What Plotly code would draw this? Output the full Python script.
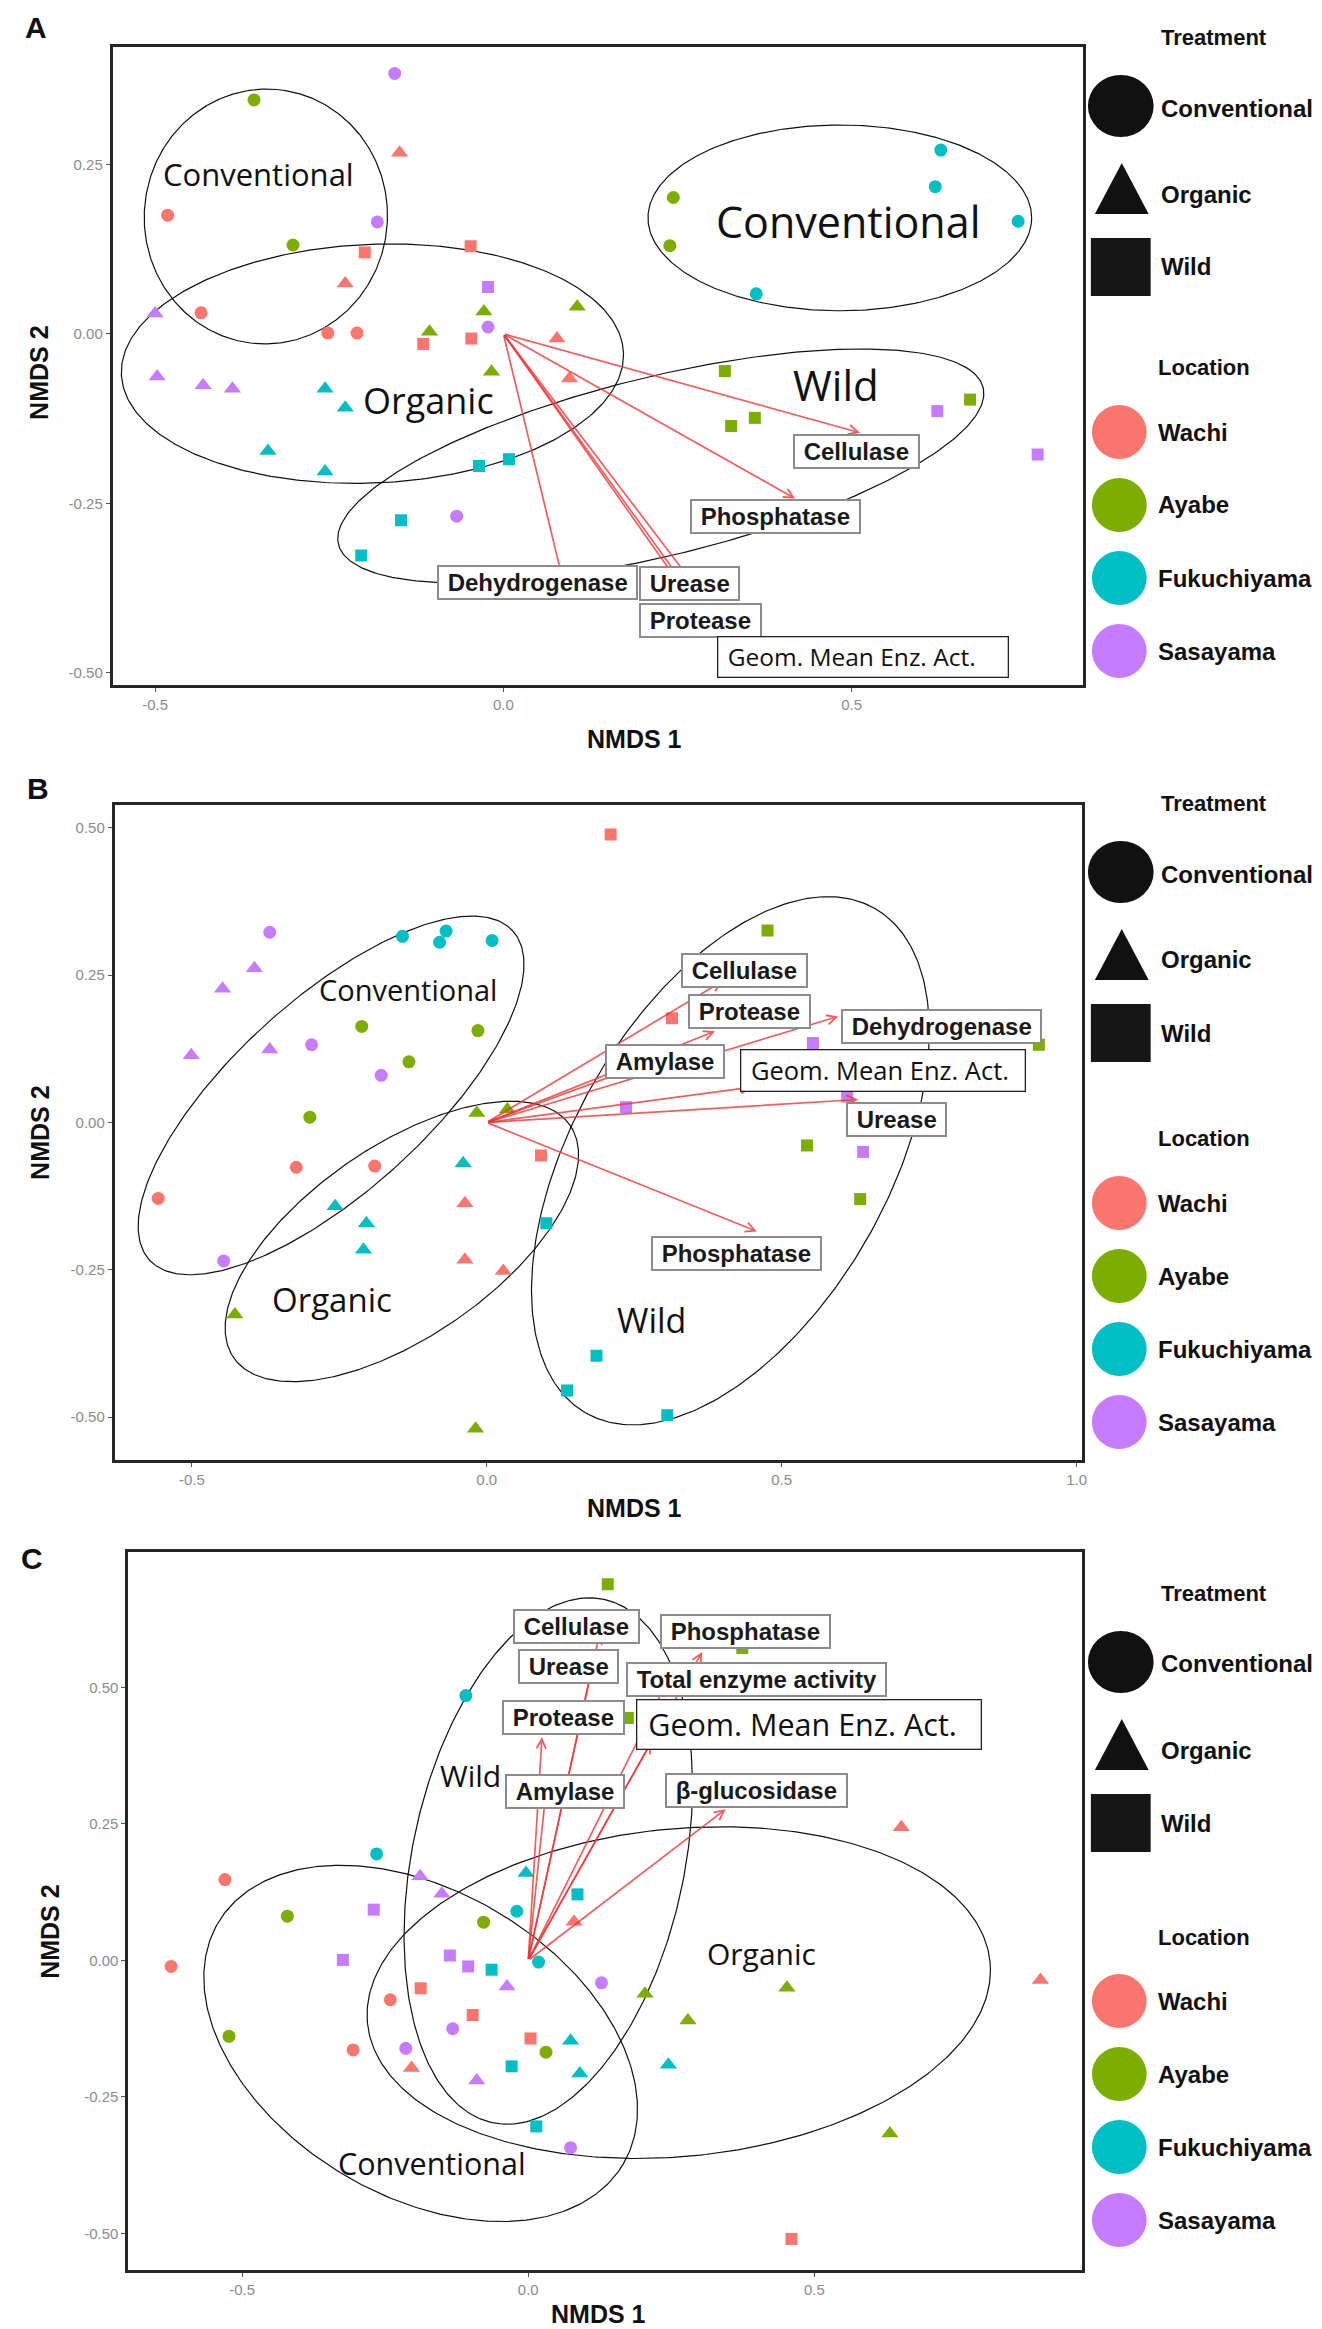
import numpy as np
import plotly.graph_objects as go

FIG_W, FIG_H = 1322, 2329

LOC_NAMES = {"Wa": "Wachi", "Ay": "Ayabe", "Fu": "Fukuchiyama", "Sa": "Sasayama"}
TRT_NAMES = {"C": "Conventional", "O": "Organic", "W": "Wild"}
LOC_COLOR = {"Wa": "#F8766D", "Ay": "#7CAE00", "Fu": "#00BFC4", "Sa": "#C77CFF"}
TRT_SYMBOL = {"C": "circle", "O": "triangle-up", "W": "square"}
TRT_SIZE = {"C": 13, "O": 15, "W": 12}

# ---------------- Panel A data ----------------
A_group = ["Wa-C", "Wa-C", "Wa-C", "Wa-C", "Wa-O", "Wa-O", "Wa-O", "Wa-O", "Wa-W", "Wa-W", "Wa-W", "Wa-W",
           "Ay-C", "Ay-C", "Ay-C", "Ay-C", "Ay-O", "Ay-O", "Ay-O", "Ay-O", "Ay-W", "Ay-W", "Ay-W", "Ay-W",
           "Fu-C", "Fu-C", "Fu-C", "Fu-C", "Fu-O", "Fu-O", "Fu-O", "Fu-O", "Fu-W", "Fu-W", "Fu-W", "Fu-W",
           "Sa-C", "Sa-C", "Sa-C", "Sa-C", "Sa-O", "Sa-O", "Sa-O", "Sa-O", "Sa-W", "Sa-W", "Sa-W"]
A_x = [-0.482, -0.434, -0.252, -0.210, -0.149, -0.227, 0.077, 0.095, -0.199, -0.047, -0.115, -0.046,
       -0.358, -0.302, 0.244, 0.239, -0.028, 0.106, -0.106, -0.017, 0.318, 0.327, 0.361, 0.670,
       0.628, 0.620, 0.739, 0.363, -0.256, -0.227, -0.338, -0.256, -0.035, 0.008, -0.147, -0.204,
       -0.156, -0.181, -0.022, -0.067, -0.500, -0.497, -0.431, -0.389, -0.022, 0.623, 0.767]
A_y = [0.175, 0.031, 0.001, 0.001, 0.267, 0.074, -0.007, -0.066, 0.120, 0.129, -0.015, -0.007,
       0.345, 0.131, 0.201, 0.130, 0.033, 0.040, 0.003, -0.056, -0.055, -0.136, -0.124, -0.097,
       0.271, 0.217, 0.166, 0.059, -0.081, -0.109, -0.173, -0.203, -0.195, -0.185, -0.275, -0.327,
       0.384, 0.165, 0.010, -0.269, 0.030, -0.063, -0.076, -0.081, 0.069, -0.114, -0.178]
A_xticks = [-0.5, 0.0, 0.5]
A_xticktext = ["-0.5", "0.0", "0.5"]
A_yticks = [-0.50, -0.25, 0.00, 0.25]
A_yticktext = ["-0.50", "-0.25", "0.00", "0.25"]
A_vec_names = ["Cellulase", "Phosphatase", "Dehydrogenase", "Urease", "Protease", "Geom. Mean Enz. Act."]
A_vec_x = [0.512, 0.419, 0.085, 0.255, 0.268, 0.290]
A_vec_y = [-0.146, -0.243, -0.362, -0.372, -0.382, -0.392]
A_lab_names = ["Cellulase", "Phosphatase", "Dehydrogenase", "Urease", "Protease"]
A_lab_x = [0.507, 0.390, 0.049, 0.267, 0.283]
A_lab_y = [-0.174, -0.270, -0.367, -0.368, -0.423]
A_geom_x, A_geom_y = 0.307, -0.477
A_ell_cx = [-0.341, -0.188, 0.226, 0.483]
A_ell_cy = [0.173, -0.044, -0.195, 0.171]
A_ell_a = [0.188, 0.372, 0.491, 0.284]
A_ell_b = [0.180, 0.176, 0.132, 0.137]
A_ell_ang = [85, 2.5, 13.6, 0]
A_grp_text = ["Conventional", "Organic", "Wild", "Conventional"]
A_grp_tx = [-0.351, -0.108, 0.478, 0.496]
A_grp_ty = [0.236, -0.098, -0.075, 0.166]

# ---------------- Panel B data ----------------
B_group = ["Wa-C", "Wa-C", "Wa-C", "Wa-O", "Wa-O", "Wa-O", "Wa-W", "Wa-W", "Wa-W",
           "Ay-C", "Ay-C", "Ay-C", "Ay-C", "Ay-O", "Ay-O", "Ay-O", "Ay-O", "Ay-W", "Ay-W", "Ay-W", "Ay-W",
           "Fu-C", "Fu-C", "Fu-C", "Fu-C", "Fu-O", "Fu-O", "Fu-O", "Fu-O", "Fu-W", "Fu-W", "Fu-W", "Fu-W",
           "Sa-C", "Sa-C", "Sa-C", "Sa-C", "Sa-O", "Sa-O", "Sa-O", "Sa-O", "Sa-W", "Sa-W", "Sa-W", "Sa-W"]
B_x = [-0.323, -0.190, -0.557, -0.037, -0.037, 0.028, 0.210, 0.314, 0.092,
       -0.212, -0.015, -0.132, -0.300, -0.017, 0.035, -0.427, -0.019, 0.476, 0.936, 0.543, 0.633,
       -0.143, -0.069, -0.080, 0.009, -0.040, -0.257, -0.204, -0.209, 0.101, 0.186, 0.136, 0.306,
       -0.368, -0.297, -0.179, -0.446, -0.394, -0.448, -0.501, -0.368, 0.236, 0.553, 0.611, 0.638]
B_y = [-0.076, -0.074, -0.129, -0.137, -0.233, -0.252, 0.489, 0.177, -0.056,
       0.163, 0.156, 0.103, 0.009, 0.016, 0.022, -0.326, -0.520, 0.326, 0.132, -0.039, -0.130,
       0.316, 0.325, 0.306, 0.309, -0.069, -0.142, -0.171, -0.216, -0.171, -0.396, -0.455, -0.497,
       0.323, 0.132, 0.080, -0.235, 0.262, 0.227, 0.114, 0.124, 0.026, 0.135, 0.044, -0.050]
B_xticks = [-0.5, 0.0, 0.5, 1.0]
B_xticktext = ["-0.5", "0.0", "0.5", "1.0"]
B_yticks = [-0.50, -0.25, 0.00, 0.25, 0.50]
B_yticktext = ["-0.50", "-0.25", "0.00", "0.25", "0.50"]
B_vec_names = ["Cellulase", "Protease", "Dehydrogenase", "Amylase", "Geom. Mean Enz. Act.", "Urease", "Phosphatase"]
B_vec_x = [0.400, 0.387, 0.596, 0.270, 0.450, 0.630, 0.458]
B_vec_y = [0.240, 0.155, 0.180, 0.100, 0.060, 0.039, -0.185]
B_lab_names = ["Cellulase", "Protease", "Dehydrogenase", "Amylase", "Urease", "Phosphatase"]
B_lab_x = [0.437, 0.445, 0.771, 0.303, 0.694, 0.424]
B_lab_y = [0.258, 0.188, 0.163, 0.103, 0.005, -0.222]
B_geom_x, B_geom_y = 0.430, 0.088
B_ell_cx = [-0.264, -0.144, 0.413]
B_ell_cy = [0.046, -0.202, -0.065]
B_ell_a = [0.417, 0.348, 0.494]
B_ell_b = [0.164, 0.162, 0.268]
B_ell_ang = [42, 34.5, 60]
B_grp_text = ["Conventional", "Organic", "Wild"]
B_grp_tx = [-0.133, -0.262, 0.279]
B_grp_ty = [0.225, -0.300, -0.335]

# ---------------- Panel C data ----------------
C_group = ["Wa-C", "Wa-C", "Wa-C", "Wa-C", "Wa-O", "Wa-O", "Wa-O", "Wa-O", "Wa-W", "Wa-W", "Wa-W", "Wa-W",
           "Ay-C", "Ay-C", "Ay-C", "Ay-C", "Ay-O", "Ay-O", "Ay-O", "Ay-O", "Ay-W", "Ay-W", "Ay-W",
           "Fu-C", "Fu-C", "Fu-C", "Fu-C", "Fu-O", "Fu-O", "Fu-O", "Fu-O", "Fu-W", "Fu-W", "Fu-W", "Fu-W",
           "Sa-C", "Sa-C", "Sa-C", "Sa-C", "Sa-O", "Sa-O", "Sa-O", "Sa-O", "Sa-W", "Sa-W", "Sa-W", "Sa-W"]
C_x = [-0.530, -0.624, -0.241, -0.306, 0.080, -0.204, 0.652, 0.895, -0.188, -0.097, 0.004, 0.460,
       -0.421, -0.078, -0.523, 0.031, 0.204, 0.452, 0.279, 0.632, 0.139, 0.174, 0.374,
       -0.109, -0.265, -0.020, 0.018, -0.004, 0.074, 0.090, 0.245, 0.086, -0.064, -0.029, 0.014,
       -0.132, -0.214, 0.128, 0.074, -0.189, -0.151, -0.037, -0.090, -0.270, -0.324, -0.137, -0.105]
C_y = [0.148, -0.011, -0.072, -0.164, 0.071, -0.197, 0.244, -0.036, -0.051, -0.100, -0.143, -0.510,
       0.081, 0.070, -0.139, -0.168, -0.061, -0.050, -0.110, -0.317, 0.689, 0.444, 0.572,
       0.485, 0.195, 0.090, -0.003, 0.160, -0.147, -0.207, -0.191, 0.121, -0.017, -0.194, -0.304,
       -0.125, -0.161, -0.041, -0.343, 0.154, 0.122, -0.048, -0.220, 0.093, 0.001, 0.009, -0.011]
C_xticks = [-0.5, 0.0, 0.5]
C_xticktext = ["-0.5", "0.0", "0.5"]
C_yticks = [-0.50, -0.25, 0.00, 0.25, 0.50]
C_yticktext = ["-0.50", "-0.25", "0.00", "0.25", "0.50"]
C_vec_names = ["Cellulase", "Urease", "Phosphatase", "Total enzyme activity", "Protease",
               "Geom. Mean Enz. Act.", "Amylase", "β-glucosidase"]
C_vec_x = [0.125, 0.110, 0.304, 0.240, 0.024, 0.215, 0.030, 0.345]
C_vec_y = [0.600, 0.530, 0.565, 0.505, 0.409, 0.400, 0.300, 0.277]
C_lab_names = ["Cellulase", "Urease", "Phosphatase", "Total enzyme activity", "Protease", "Amylase", "β-glucosidase"]
C_lab_x = [0.085, 0.071, 0.380, 0.399, 0.061, 0.065, 0.399]
C_lab_y = [0.611, 0.539, 0.602, 0.515, 0.444, 0.310, 0.312]
C_geom_x, C_geom_y = 0.188, 0.4315
C_ell_cx = [0.035, 0.263, -0.188]
C_ell_cy = [0.182, -0.059, -0.152]
C_ell_a = [0.490, 0.575, 0.433]
C_ell_b = [0.250, 0.300, 0.279]
C_ell_ang = [77.9, 5.6, -30.7]
C_grp_text = ["Wild", "Organic", "Conventional"]
C_grp_tx = [-0.101, 0.407, -0.168]
C_grp_ty = [0.338, 0.012, -0.371]

# ---------------- layout settings (pixels) ----------------
PANELS = [
    dict(key="A", sfx="", px=(105, 1079, 39, 677), xr=(-0.561, 0.832), yr=(-0.518, 0.423),
         group=A_group, x=A_x, y=A_y, xt=A_xticks, xtt=A_xticktext, yt=A_yticks, ytt=A_yticktext,
         vn=A_vec_names, vx=A_vec_x, vy=A_vec_y, ln=A_lab_names, lx=A_lab_x, ly=A_lab_y,
         gx=A_geom_x, gy=A_geom_y, gw=292, gfs=24.5,
         ecx=A_ell_cx, ecy=A_ell_cy, ea=A_ell_a, eb=A_ell_b, eang=A_ell_ang,
         gt=A_grp_text, gtx=A_grp_tx, gty=A_grp_ty, gts=[31, 36, 42, 43],
         letter=(28, 19), xtitle=(629, 731), ytitle=(31, 365), legend_top=29, loc_gap=331),
    dict(key="B", sfx="2", px=(107, 1078, 797, 1452), xr=(-0.631, 1.009), yr=(-0.573, 0.539),
         group=B_group, x=B_x, y=B_y, xt=B_xticks, xtt=B_xticktext, yt=B_yticks, ytt=B_yticktext,
         vn=B_vec_names, vx=B_vec_x, vy=B_vec_y, ln=B_lab_names, lx=B_lab_x, ly=B_lab_y,
         gx=B_geom_x, gy=B_geom_y, gw=286, gfs=25.5,
         ecx=B_ell_cx, ecy=B_ell_cy, ea=B_ell_a, eb=B_ell_b, eang=B_ell_ang,
         gt=B_grp_text, gtx=B_grp_tx, gty=B_grp_ty, gts=[29, 33, 34],
         letter=(30, 781), xtitle=(629, 1500), ytitle=(32, 1125), legend_top=795, loc_gap=336),
    dict(key="C", sfx="3", px=(120.7, 1077.7, 1544, 2262), xr=(-0.699, 0.967), yr=(-0.567, 0.748),
         group=C_group, x=C_x, y=C_y, xt=C_xticks, xtt=C_xticktext, yt=C_yticks, ytt=C_yticktext,
         vn=C_vec_names, vx=C_vec_x, vy=C_vec_y, ln=C_lab_names, lx=C_lab_x, ly=C_lab_y,
         gx=C_geom_x, gy=C_geom_y, gw=346, gfs=30.5,
         ecx=C_ell_cx, ecy=C_ell_cy, ea=C_ell_a, eb=C_ell_b, eang=C_ell_ang,
         gt=C_grp_text, gtx=C_grp_tx, gty=C_grp_ty, gts=[30, 30, 30.5],
         letter=(24, 1550), xtitle=(593, 2306), ytitle=(42, 1924), legend_top=1585, loc_gap=344),
]

ARROW_COLOR = "rgba(238,55,55,0.8)"
BOLD_FONT = "Liberation Sans, Arial, sans-serif"
TEXT_FONT = "Open Sans, Noto Sans, sans-serif"


def paper_x(px):
    return px / FIG_W


def paper_y(py):
    return 1 - py / FIG_H


def ellipse_xy(cx, cy, a, b, ang, kx):
    t = np.linspace(0, 2 * np.pi, 361)
    th = np.radians(ang)
    u, v = a * np.cos(t), b * np.sin(t)
    dx = u * np.cos(th) - v * np.sin(th)
    dy = u * np.sin(th) + v * np.cos(th)
    return cx + dx * kx, cy + dy


fig = go.Figure()
annotations = []
shapes = []
layout_axes = {}

for P in PANELS:
    sfx = P["sfx"]
    xa, ya = "x" + sfx, "y" + sfx
    x0, x1, y0, y1 = P["px"]
    sx = (x1 - x0) / (P["xr"][1] - P["xr"][0])
    sy = (y1 - y0) / (P["yr"][1] - P["yr"][0])
    kx = sy / sx

    axis_common = dict(showgrid=False, zeroline=False, showline=True, mirror=True,
                       linecolor="#262626", linewidth=2.6, ticks="outside", ticklen=4,
                       tickcolor="#555555", tickwidth=1,
                       tickfont=dict(family=BOLD_FONT, size=15, color="#8c8c8c"))
    layout_axes["xaxis" + sfx] = dict(axis_common, domain=[paper_x(x0), paper_x(x1)], range=list(P["xr"]),
                                      tickvals=P["xt"], ticktext=P["xtt"], anchor=ya)
    layout_axes["yaxis" + sfx] = dict(axis_common, domain=[paper_y(y1), paper_y(y0)], range=list(P["yr"]),
                                      tickvals=P["yt"], ticktext=P["ytt"], anchor=xa)

    # ellipses
    for cx, cy, a, b, ang in zip(P["ecx"], P["ecy"], P["ea"], P["eb"], P["eang"]):
        ex, ey = ellipse_xy(cx, cy, a, b, ang, kx)
        fig.add_trace(go.Scatter(x=ex, y=ey, mode="lines", line=dict(color="#111111", width=1.2),
                                 xaxis=xa, yaxis=ya, hoverinfo="skip", showlegend=False))

    # points
    for lc in ["Wa", "Ay", "Fu", "Sa"]:
        for tc in ["C", "O", "W"]:
            g = lc + "-" + tc
            px_ = [xv for gg, xv in zip(P["group"], P["x"]) if gg == g]
            py_ = [yv for gg, yv in zip(P["group"], P["y"]) if gg == g]
            if not px_:
                continue
            fig.add_trace(go.Scatter(x=px_, y=py_, mode="markers",
                                     marker=dict(symbol=TRT_SYMBOL[tc], size=TRT_SIZE[tc],
                                                 color=LOC_COLOR[lc], line=dict(width=0)),
                                     name=LOC_NAMES[lc] + " " + TRT_NAMES[tc],
                                     xaxis=xa, yaxis=ya, showlegend=False))

    # arrows (vectors)
    for vx, vy in zip(P["vx"], P["vy"]):
        annotations.append(dict(x=vx, y=vy, ax=0, ay=0, xref=xa, yref=ya, axref=xa, ayref=ya,
                                text="", showarrow=True, arrowhead=5, arrowsize=1.1,
                                arrowwidth=1.7, arrowcolor=ARROW_COLOR))

    # boxed bold labels
    for nm, lx, ly in zip(P["ln"], P["lx"], P["ly"]):
        annotations.append(dict(x=lx, y=ly, xref=xa, yref=ya, showarrow=False,
                                text="<b>&nbsp;" + nm + "&nbsp;</b>",
                                font=dict(family=BOLD_FONT, size=24, color="#1a1a1a"),
                                bgcolor="white", bordercolor="#8c8c8c", borderwidth=2, borderpad=2,
                                xanchor="center", yanchor="middle"))

    # Geom. Mean box
    annotations.append(dict(x=P["gx"], y=P["gy"], xref=xa, yref=ya, showarrow=False,
                            text="&nbsp;Geom. Mean Enz. Act.", align="left",
                            width=P["gw"] - 9, font=dict(family=TEXT_FONT, size=P["gfs"], color="#111111"),
                            bgcolor="white", bordercolor="#222222", borderwidth=1.3, borderpad=3,
                            xanchor="left", yanchor="middle"))

    # group texts
    for t, tx, ty, ts in zip(P["gt"], P["gtx"], P["gty"], P["gts"]):
        annotations.append(dict(x=tx, y=ty, xref=xa, yref=ya, showarrow=False, text=t,
                                font=dict(family=TEXT_FONT, size=ts, color="#111111"),
                                xanchor="center", yanchor="middle"))

    # panel letter and axis titles
    lx_, ly_ = P["letter"]
    annotations.append(dict(x=paper_x(lx_), y=paper_y(ly_), xref="paper", yref="paper", showarrow=False,
                            text="<b>" + P["key"] + "</b>", font=dict(family=BOLD_FONT, size=30, color="#111"),
                            xanchor="center", yanchor="middle"))
    tx_, ty_ = P["xtitle"]
    annotations.append(dict(x=paper_x(tx_), y=paper_y(ty_), xref="paper", yref="paper", showarrow=False,
                            text="<b>NMDS 1</b>", font=dict(family=BOLD_FONT, size=25, color="#111"),
                            xanchor="center", yanchor="middle"))
    tx_, ty_ = P["ytitle"]
    annotations.append(dict(x=paper_x(tx_), y=paper_y(ty_), xref="paper", yref="paper", showarrow=False,
                            text="<b>NMDS 2</b>", textangle=-90, font=dict(family=BOLD_FONT, size=25, color="#111"),
                            xanchor="center", yanchor="middle"))

    # legend (drawn manually, large keys)
    top = P["legend_top"]
    text_x = paper_x(1155)
    annotations.append(dict(x=text_x, y=paper_y(top), xref="paper", yref="paper", showarrow=False,
                            text="<b>Treatment</b>", font=dict(family=BOLD_FONT, size=22, color="#111"),
                            xanchor="left", yanchor="middle"))
    # circle
    c = top + 69
    shapes.append(dict(type="circle", xref="paper", yref="paper", x0=paper_x(1084), x1=paper_x(1150),
                       y0=paper_y(c + 31), y1=paper_y(c - 31), fillcolor="#111111", line=dict(width=0)))
    annotations.append(dict(x=text_x, y=paper_y(c + 2), xref="paper", yref="paper", showarrow=False,
                            text="<b>Conventional</b>", font=dict(family=BOLD_FONT, size=24, color="#111"),
                            xanchor="left", yanchor="middle"))
    # triangle
    c = top + 153
    path = "M {:.5f},{:.5f} L {:.5f},{:.5f} L {:.5f},{:.5f} Z".format(
        paper_x(1118), paper_y(c - 27), paper_x(1091), paper_y(c + 24), paper_x(1145), paper_y(c + 24))
    shapes.append(dict(type="path", xref="paper", yref="paper", path=path, fillcolor="#111111", line=dict(width=0)))
    annotations.append(dict(x=text_x, y=paper_y(c + 4), xref="paper", yref="paper", showarrow=False,
                            text="<b>Organic</b>", font=dict(family=BOLD_FONT, size=24, color="#111"),
                            xanchor="left", yanchor="middle"))
    # square
    c = top + 230
    shapes.append(dict(type="rect", xref="paper", yref="paper", x0=paper_x(1087), x1=paper_x(1147),
                       y0=paper_y(c + 29), y1=paper_y(c - 29), fillcolor="#161616", line=dict(width=0)))
    annotations.append(dict(x=text_x, y=paper_y(c), xref="paper", yref="paper", showarrow=False,
                            text="<b>Wild</b>", font=dict(family=BOLD_FONT, size=24, color="#111"),
                            xanchor="left", yanchor="middle"))
    # Location
    loc_top = top + P["loc_gap"]
    annotations.append(dict(x=paper_x(1152), y=paper_y(loc_top), xref="paper", yref="paper", showarrow=False,
                            text="<b>Location</b>", font=dict(family=BOLD_FONT, size=22, color="#111"),
                            xanchor="left", yanchor="middle"))
    for i, lc in enumerate(["Wa", "Ay", "Fu", "Sa"]):
        c = loc_top + 64 + 73 * i
        shapes.append(dict(type="circle", xref="paper", yref="paper", x0=paper_x(1088), x1=paper_x(1143),
                           y0=paper_y(c + 27), y1=paper_y(c - 27), fillcolor=LOC_COLOR[lc], line=dict(width=0)))
        annotations.append(dict(x=paper_x(1152), y=paper_y(c), xref="paper", yref="paper", showarrow=False,
                                text="<b>" + LOC_NAMES[lc] + "</b>", font=dict(family=BOLD_FONT, size=24, color="#111"),
                                xanchor="left", yanchor="middle"))

fig.update_layout(width=FIG_W, height=FIG_H, autosize=False,
                  margin=dict(l=0, r=0, t=0, b=0),
                  paper_bgcolor="white", plot_bgcolor="white",
                  showlegend=False, annotations=annotations, shapes=shapes, **layout_axes)

fig.write_html("out.html")
